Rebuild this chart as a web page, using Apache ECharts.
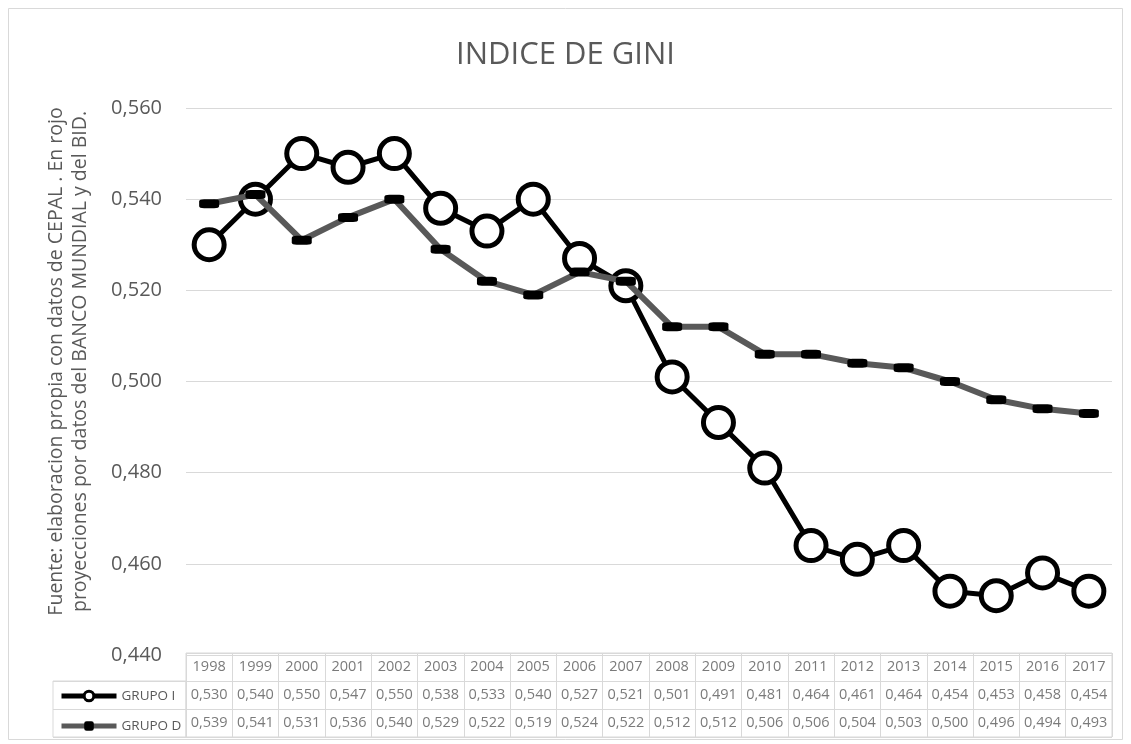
<!DOCTYPE html>
<html>
<head>
<meta charset="utf-8">
<script src="https://cdn.jsdelivr.net/npm/echarts@6/dist/echarts.min.js"></script>
<style>html,body{margin:0;padding:0;background:#fff;}#chart{width:1131px;height:744px;}</style>
</head>
<body>
<div id="chart"></div>
<script>
const years = ['1998','1999','2000','2001','2002','2003','2004','2005','2006','2007','2008','2009','2010','2011','2012','2013','2014','2015','2016','2017'];
const grupoI = [0.530,0.540,0.550,0.547,0.550,0.538,0.533,0.540,0.527,0.521,0.501,0.491,0.481,0.464,0.461,0.464,0.454,0.453,0.458,0.454];
const grupoD = [0.539,0.541,0.531,0.536,0.540,0.529,0.522,0.519,0.524,0.522,0.512,0.512,0.506,0.506,0.504,0.503,0.500,0.496,0.494,0.493];
const seriesNames = ['GRUPO I','GRUPO D'];
const titleText = 'INDICE DE GINI';
const yName = 'Fuente: elaboracion propia con datos de CEPAL . En rojo\nproyecciones por datos del BANCO MUNDIAL y del BID.';

const FONT = '"Open Sans", Lato, sans-serif';
const fmt = v => v.toFixed(3).replace('.', ',');
const rows = ['AÑO', seriesNames[0], seriesNames[1]];

const tableData = [];
years.forEach((y, i) => {
  tableData.push([y, rows[0], y]);
  tableData.push([y, rows[1], fmt(grupoI[i])]);
  tableData.push([y, rows[2], fmt(grupoD[i])]);
});

const chart = echarts.init(document.getElementById('chart'));
chart.setOption({
  backgroundColor: '#fff',
  animation: false,
  title: {
    text: titleText, left: 'center', top: 35, padding: [5, 5, 5, 23],
    textStyle: { fontFamily: FONT, fontSize: 31, fontWeight: 'normal', color: '#595959' }
  },
  graphic: [{
    type: 'rect', silent: true, z: -10,
    shape: { x: 8.5, y: 8.5, width: 1114, height: 731 },
    style: { fill: 'none', stroke: '#d9d9d9', lineWidth: 1 }
  }],
  legend: {
    data: [
      { name: seriesNames[0], lineStyle: { width: 5, color: '#000' }, itemStyle: { color: '#fff', borderColor: '#000', borderWidth: 3 } },
      { name: seriesNames[1], lineStyle: { width: 5, color: '#595959' }, itemStyle: { color: '#000' } }
    ],
    orient: 'vertical', left: 54, top: 684, itemGap: 16,
    itemWidth: 55, itemHeight: 12, selectedMode: false,
    textStyle: { fontFamily: FONT, fontSize: 13.5, color: '#595959' }
  },
  grid: [
    { left: 186, right: 19, top: 108, bottom: 89 },
    { left: 186, right: 19, top: 653, height: 84, show: true, borderColor: '#d9d9d9', borderWidth: 1 },
    { left: 53, width: 133, top: 681, height: 56, show: true, borderColor: '#d9d9d9', borderWidth: 1 }
  ],
  xAxis: [
    { type: 'category', data: years, gridIndex: 0, boundaryGap: true,
      axisLine: { show: false }, axisTick: { show: false }, axisLabel: { show: false }, splitLine: { show: false } },
    { type: 'category', data: years, gridIndex: 1, boundaryGap: true,
      axisLine: { show: false }, axisTick: { show: false }, axisLabel: { show: false },
      splitLine: { show: true, interval: 0, lineStyle: { color: '#d9d9d9', width: 1 } } },
    { type: 'value', gridIndex: 2, show: false, min: 0, max: 1 }
  ],
  yAxis: [
    { type: 'value', gridIndex: 0, min: 0.44, max: 0.56, interval: 0.02,
      axisLine: { show: false }, axisTick: { show: false },
      axisLabel: { formatter: v => fmt(v), fontFamily: FONT, fontSize: 20, color: '#595959', margin: 24 },
      splitLine: { lineStyle: { color: '#d9d9d9', width: 1 } },
      name: yName, nameLocation: 'middle', nameRotate: 90, nameGap: 94,
      nameTextStyle: { fontFamily: FONT, fontSize: 19.5, color: '#595959', lineHeight: 24, align: 'center', padding: [0, 0, 0, 40] } },
    { type: 'category', data: rows, gridIndex: 1, inverse: true, boundaryGap: true,
      axisLine: { show: false }, axisTick: { show: false }, axisLabel: { show: false },
      splitLine: { show: true, interval: 0, lineStyle: { color: '#d9d9d9', width: 1 } } },
    { type: 'category', data: seriesNames, gridIndex: 2, inverse: true, boundaryGap: true,
      axisLine: { show: false }, axisTick: { show: false }, axisLabel: { show: false },
      splitLine: { show: true, interval: 0, lineStyle: { color: '#d9d9d9', width: 1 } } }
  ],
  series: [
    { name: seriesNames[0], type: 'line', xAxisIndex: 0, yAxisIndex: 0, data: grupoI,
      symbol: 'circle', symbolSize: 30, z: 2,
      lineStyle: { color: '#000', width: 5 },
      itemStyle: { color: '#fff', borderColor: '#000', borderWidth: 5 } },
    { name: seriesNames[1], type: 'line', xAxisIndex: 0, yAxisIndex: 0, data: grupoD,
      symbol: 'roundRect', symbolSize: [20, 9], z: 3,
      lineStyle: { color: '#595959', width: 6 },
      itemStyle: { color: '#000', borderWidth: 0 } },
    { type: 'scatter', xAxisIndex: 1, yAxisIndex: 1, data: tableData,
      symbolSize: 0.1, itemStyle: { color: 'transparent' }, silent: true,
      label: { show: true, position: 'inside', formatter: p => p.value[2],
        fontFamily: FONT, fontSize: 14.5, color: '#595959' } }
  ]
});
</script>
</body>
</html>
